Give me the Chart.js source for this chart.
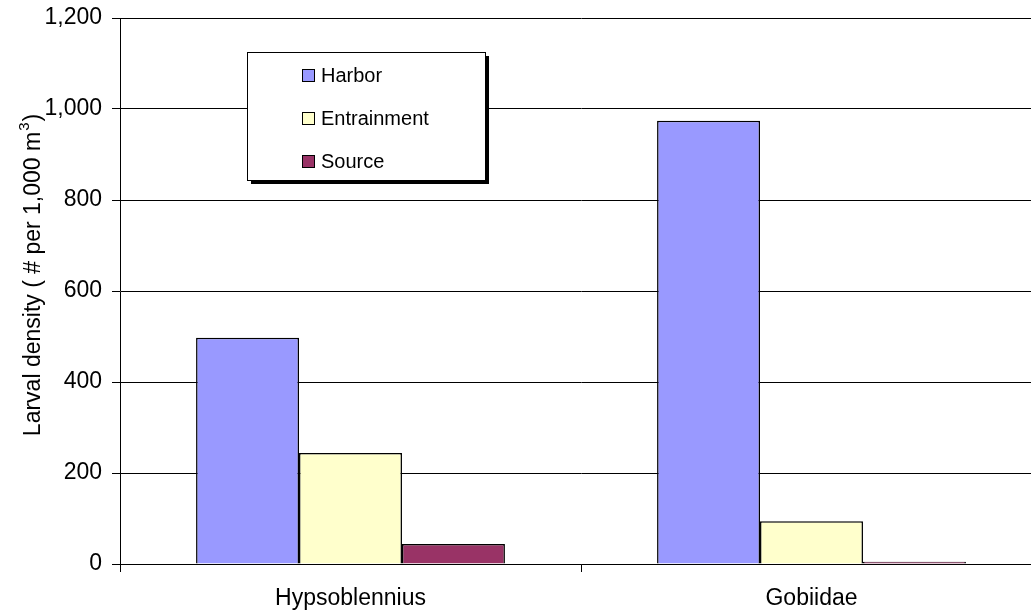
<!DOCTYPE html>
<html>
<head>
<meta charset="utf-8">
<script src="https://cdn.jsdelivr.net/npm/chart.js@4/dist/chart.umd.min.js"></script>
<style>
  html, body { margin: 0; padding: 0; background: #fff; overflow: hidden; }
  #wrap { position: absolute; left: 0; top: 0; width: 1042px; height: 612px; }
</style>
</head>
<body>
<div id="wrap"><canvas id="barChart"></canvas></div>
<script>
// Chart data
const categories = ['Hypsoblennius', 'Gobiidae'];
const seriesNames = ['Harbor', 'Entrainment', 'Source'];
const harborValues = [497, 974];
const entrainmentValues = [244, 94];
const sourceValues = [44, 5];
const seriesColors = ['#9999FF', '#FFFFCC', '#993366'];
const yTitle = 'Larval density ( # per 1,000 m';

const FONT = 'Arial, "Liberation Sans", sans-serif';

// Boxed legend with drop shadow, drawn inside the plot area
const boxLegend = {
    id: 'boxLegend',
    afterDraw(chart) {
        const ctx = chart.ctx;
        const x = 247, y = 52, w = 238, h = 128;
        ctx.save();
        ctx.fillStyle = '#000';
        ctx.fillRect(x + 4, y + 4, w, h);
        ctx.fillStyle = '#fff';
        ctx.fillRect(x, y, w, h);
        ctx.strokeStyle = '#000';
        ctx.lineWidth = 1;
        ctx.strokeRect(x + 0.5, y + 0.5, w, h);
        ctx.font = '20px ' + FONT;
        ctx.textBaseline = 'middle';
        chart.data.datasets.forEach((ds, i) => {
            const cy = 75 + i * 43;
            ctx.fillStyle = ds.backgroundColor;
            ctx.fillRect(302, cy - 6, 13, 13);
            ctx.strokeStyle = '#000';
            ctx.strokeRect(302.5, cy - 5.5, 12, 12);
            ctx.fillStyle = '#000';
            ctx.fillText(ds.label, 321, cy + 1);
        });
        ctx.restore();
    }
};

// Y axis title with superscript
const yAxisTitle = {
    id: 'yAxisTitle',
    afterDraw(chart) {
        const ctx = chart.ctx;
        ctx.save();
        ctx.translate(34, 275);
        ctx.rotate(-Math.PI / 2);
        ctx.fillStyle = '#000';
        ctx.textBaseline = 'middle';
        ctx.font = '23px ' + FONT;
        const w = ctx.measureText(yTitle).width;
        const pw = ctx.measureText(')').width;
        ctx.font = '15px ' + FONT;
        const sw = ctx.measureText('3').width;
        const total = w + sw + pw + 2;
        const sx = -total / 2;
        ctx.font = '23px ' + FONT;
        ctx.fillText(yTitle, sx, 0);
        ctx.font = '15px ' + FONT;
        ctx.fillText('3', sx + w + 1, -9);
        ctx.font = '23px ' + FONT;
        ctx.fillText(')', sx + w + sw + 2, 0);
        ctx.restore();
    }
};

const valueSets = [harborValues, entrainmentValues, sourceValues];

const barChart = new Chart(document.getElementById('barChart').getContext('2d'), {
    type: 'bar',
    data: {
        labels: categories,
        datasets: seriesNames.map((name, i) => ({
            label: name,
            data: valueSets[i],
            backgroundColor: seriesColors[i],
            borderColor: '#000',
            borderWidth: 1.5,
            categoryPercentage: 0.67,
            barPercentage: 1.0
        }))
    },
    options: {
        responsive: true,
        maintainAspectRatio: false,
        animation: false,
        layout: { padding: { top: 18, left: 0, right: 0, bottom: 0 } },
        plugins: {
            legend: { display: false },
            tooltip: { enabled: false }
        },
        scales: {
            x: {
                grid: {
                    offset: true,
                    drawOnChartArea: false,
                    drawTicks: true,
                    tickLength: 8,
                    color: '#000'
                },
                border: { color: '#000', width: 1 },
                ticks: {
                    color: '#000',
                    font: { family: FONT, size: 23 },
                    padding: 13
                },
                afterFit(scale) {
                    scale.height = 48;
                    scale.paddingLeft = 0;
                    scale.paddingRight = 0;
                }
            },
            y: {
                min: 0,
                max: 1200,
                ticks: {
                    stepSize: 200,
                    color: '#000',
                    font: { family: FONT, size: 23 },
                    padding: 10
                },
                grid: {
                    color: '#000',
                    lineWidth: 1,
                    tickLength: 8
                },
                border: { color: '#000', width: 1 },
                afterFit(scale) {
                    scale.width = 120;
                    scale.paddingTop = 0;
                    scale.paddingBottom = 0;
                }
            }
        }
    },
    plugins: [boxLegend, yAxisTitle]
});
</script>
</body>
</html>
